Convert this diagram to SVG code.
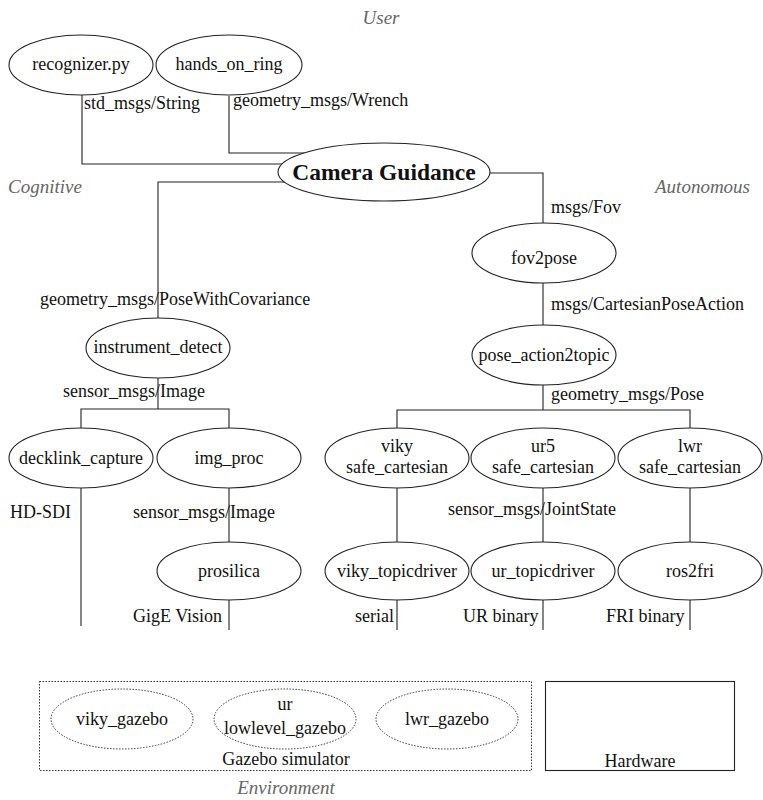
<svg xmlns="http://www.w3.org/2000/svg" width="763" height="800" viewBox="0 0 763 800">
<style>
text{font-family:"Liberation Serif","Times New Roman",serif;font-size:18px;fill:#111}
.c{text-anchor:middle}
.reg{font-style:italic;fill:#666;font-size:19px}
.node ellipse{fill:#fff;stroke:#222;stroke-width:1.1}
.sim ellipse{fill:#fff;stroke:#333;stroke-width:1;stroke-dasharray:1.5 1.5}
#edges path{fill:none;stroke:#222;stroke-width:1.1}
</style>
<rect width="763" height="800" fill="#fff"/>
<text class="reg c" x="381" y="24">User</text>
<text class="reg" x="8" y="193">Cognitive</text>
<text class="reg" x="655" y="193">Autonomous</text>
<text class="reg c" x="286" y="794">Environment</text>
<g id="edges">
<path d="M82 95V164H283"/>
<path d="M229 96V153H305"/>
<path d="M285 182H158V318"/>
<path d="M490 173H543V223"/>
<path d="M543 283V325"/>
<path d="M543 385V410M397 428V410H690V428"/>
<path d="M158 378V409M81 428V409H229V428"/>
<path d="M81 488V626"/>
<path d="M229 488V543"/>
<path d="M229 600V630"/>
<path d="M397 488V543M543 488V543M690 488V543"/>
<path d="M397 600V630M543 600V630M690 600V630"/>
</g>
<g id="labels">
<text x="84" y="109">std_msgs/String</text>
<text x="233" y="106">geometry_msgs/Wrench</text>
<text x="40" y="305">geometry_msgs/PoseWithCovariance</text>
<text x="551" y="213">msgs/Fov</text>
<text x="551" y="310">msgs/CartesianPoseAction</text>
<text x="551" y="400">geometry_msgs/Pose</text>
<text x="63" y="397">sensor_msgs/Image</text>
<text x="10" y="518">HD-SDI</text>
<text x="133" y="518">sensor_msgs/Image</text>
<text x="133" y="622">GigE Vision</text>
<text x="448" y="515">sensor_msgs/JointState</text>
<text x="355" y="622">serial</text>
<text x="463" y="622">UR binary</text>
<text x="606" y="622">FRI binary</text>
</g>
<g id="recognizer" class="node"><ellipse cx="81" cy="65" rx="72" ry="30"/><text class="c" x="81" y="70">recognizer.py</text></g>
<g id="hands_on_ring" class="node"><ellipse cx="229" cy="65" rx="73" ry="30"/><text class="c" x="229" y="70">hands_on_ring</text></g>
<g id="camera_guidance" class="node"><ellipse cx="384" cy="172" rx="106" ry="29"/><text class="c" x="384" y="180" style="font-weight:bold;font-size:23.5px">Camera Guidance</text></g>
<g id="fov2pose" class="node"><ellipse cx="544" cy="253" rx="72" ry="30"/><text class="c" x="544" y="264">fov2pose</text></g>
<g id="pose_action2topic" class="node"><ellipse cx="544" cy="355" rx="72" ry="30"/><text class="c" x="544" y="361">pose_action2topic</text></g>
<g id="instrument_detect" class="node"><ellipse cx="158" cy="348" rx="72" ry="30"/><text class="c" x="158" y="353">instrument_detect</text></g>
<g id="decklink_capture" class="node"><ellipse cx="81" cy="458" rx="72" ry="30"/><text class="c" x="81" y="464">decklink_capture</text></g>
<g id="img_proc" class="node"><ellipse cx="229" cy="458" rx="72" ry="30"/><text class="c" x="229" y="464">img_proc</text></g>
<g id="prosilica" class="node"><ellipse cx="229" cy="571" rx="72" ry="29"/><text class="c" x="229" y="577">prosilica</text></g>
<g id="viky_safe_cartesian" class="node"><ellipse cx="397" cy="458" rx="72" ry="30"/><text class="c" x="397" y="452">viky</text><text class="c" x="397" y="473">safe_cartesian</text></g>
<g id="ur5_safe_cartesian" class="node"><ellipse cx="543" cy="458" rx="72" ry="30"/><text class="c" x="543" y="452">ur5</text><text class="c" x="543" y="473">safe_cartesian</text></g>
<g id="lwr_safe_cartesian" class="node"><ellipse cx="690" cy="458" rx="72" ry="30"/><text class="c" x="690" y="452">lwr</text><text class="c" x="690" y="473">safe_cartesian</text></g>
<g id="viky_topicdriver" class="node"><ellipse cx="397" cy="571" rx="72" ry="29"/><text class="c" x="397" y="577">viky_topicdriver</text></g>
<g id="ur_topicdriver" class="node"><ellipse cx="543" cy="571" rx="72" ry="29"/><text class="c" x="543" y="577">ur_topicdriver</text></g>
<g id="ros2fri" class="node"><ellipse cx="690" cy="571" rx="72" ry="29"/><text class="c" x="690" y="577">ros2fri</text></g>
<g id="gazebo_simulator">
<rect x="39.5" y="681.5" width="492" height="89" fill="none" stroke="#333" stroke-width="1" stroke-dasharray="1.5 1.5"/>
<text class="c" x="286" y="765">Gazebo simulator</text>
</g>
<g id="viky_gazebo" class="sim"><ellipse cx="122" cy="719" rx="71" ry="30"/><text class="c" x="122" y="725">viky_gazebo</text></g>
<g id="ur_lowlevel_gazebo" class="sim"><ellipse cx="285" cy="719" rx="71" ry="30"/><text class="c" x="285" y="710">ur</text><text class="c" x="285" y="734">lowlevel_gazebo</text></g>
<g id="lwr_gazebo" class="sim"><ellipse cx="447" cy="719" rx="71" ry="30"/><text class="c" x="447" y="725">lwr_gazebo</text></g>
<g id="hardware">
<rect x="545.5" y="681.5" width="189" height="89" fill="none" stroke="#222" stroke-width="1.1"/>
<text class="c" x="640" y="767">Hardware</text>
</g>
</svg>
